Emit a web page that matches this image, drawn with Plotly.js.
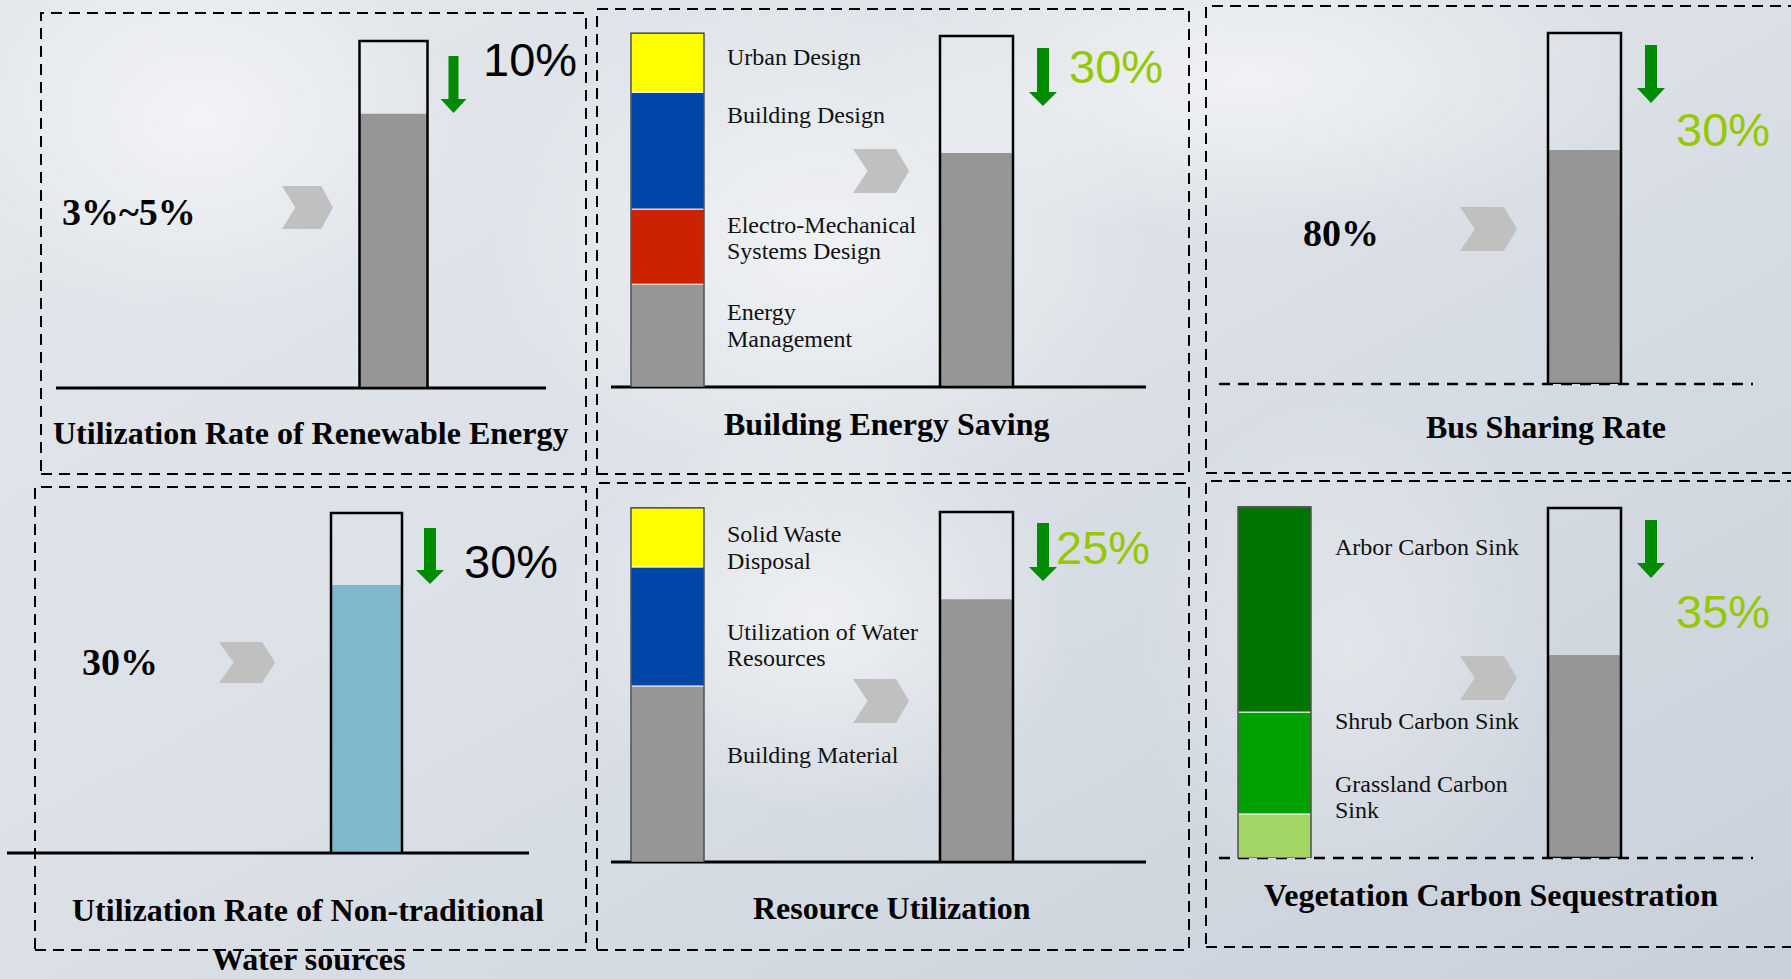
<!DOCTYPE html>
<html>
<head>
<meta charset="utf-8">
<script src="https://cdn.plot.ly/plotly-3.0.1.min.js"></script>
<style>
html,body{margin:0;padding:0;overflow:hidden;background:#dde2e8;}
#chart{width:1791px;height:979px;}
</style>
</head>
<body>
<div id="chart"></div>
<script>
// ---------------- DATA ----------------
const panelTitles = [
  "Utilization Rate of Renewable Energy",
  "Building Energy Saving",
  "Bus Sharing Rate",
  "Utilization Rate of Non-traditional<br>Water sources",
  "Resource Utilization",
  "Vegetation Carbon Sequestration"
];
const currentLabels = ["3%~5%", null, "80%", "30%", null, null];
const targetLevels = [79.0, 66.7, 66.7, 78.8, 75.1, 58.0];   // filled level of each target bar (box = 100)
const targetChanges = ["10%", "30%", "30%", "30%", "25%", "35%"];

const energyParts = ["Energy<br>Management", "Electro-Mechanical<br>Systems Design", "Building Design", "Urban Design"];
const energyShares = [29.3, 21.4, 33.3, 16.8];

const resourceParts = ["Building Material", "Utilization of Water<br>Resources", "Solid Waste<br>Disposal"];
const resourceShares = [50.3, 34.0, 16.9];

const carbonParts = ["Grassland Carbon<br>Sink", "Shrub Carbon Sink", "Arbor Carbon Sink"];
const carbonShares = [12.6, 29.1, 58.6];

// ---------------- LAYOUT / STYLE ----------------
const W = 1791, H = 979;
const fx = x => x / W;
const fy = y => 1 - y / H;
const SERIF = '"Liberation Serif", "Times New Roman", serif';
const SANS = '"Liberation Sans", Arial, sans-serif';
const GRAY = '#969696';
const LIME = '#96c800';
const ARROW = '#008c00';

const stacks = {
  1: { parts: energyParts, shares: energyShares, colors: [GRAY, '#cc2200', '#0046a8', '#ffff00'],
       cx: 667.5, w: 73, labelX: 725, labelY: [[312, 339], [225, 251], [115], [57]] },
  4: { parts: resourceParts, shares: resourceShares, colors: [GRAY, '#0046a8', '#ffff00'],
       cx: 667.5, w: 73, labelX: 725, labelY: [[755], [632, 658], [534, 561]] },
  5: { parts: carbonParts, shares: carbonShares, colors: ['#a2d566', '#00a000', '#007300'],
       cx: 1274.5, w: 73, labelX: 1333, labelY: [[784, 810], [721], [547]] }
};

const P = [
  { box: [41, 13, 586, 474], baseY: 388, boxH: 347, line: [56, 546], dashed: false,
    tcx: 393.5, tw: 68, fill: GRAY, arrow: [453.5, 56, 99, 113, 5, 13],
    change: [481, 59, '#000000'], current: [60, 212], chev: [282, 186, 333, 229],
    title: [[310, 433]] },
  { box: [597, 9, 1189, 474], baseY: 387, boxH: 351, line: [611, 1146], dashed: false,
    tcx: 976.5, tw: 73, fill: GRAY, arrow: [1043, 48, 92, 106, 6, 14],
    change: [1067, 67, LIME], current: null, chev: [853, 149, 909, 193],
    title: [[886, 423.5]] },
  { box: [1206, 6, 1800, 473], baseY: 384, boxH: 351, line: [1219, 1753], dashed: true,
    tcx: 1584.5, tw: 73, fill: GRAY, arrow: [1651, 45, 88, 103, 6, 14],
    change: [1674, 129, LIME], current: [1301, 233], chev: [1460, 207, 1517, 251],
    title: [[1546, 427.5]] },
  { box: [35, 487, 586, 950], baseY: 853, boxH: 340, line: [7, 529], dashed: false,
    tcx: 366.5, tw: 71, fill: '#7fb7cd', arrow: [430, 528, 570, 584, 6, 14],
    change: [462, 561, '#000000'], current: [80, 662], chev: [219, 642, 275, 683],
    title: [[308, 910], [308, 959]] },
  { box: [597, 483, 1189, 950], baseY: 862, boxH: 350, line: [611, 1146], dashed: false,
    tcx: 976.5, tw: 73, fill: GRAY, arrow: [1043, 523, 567, 581, 6, 14],
    change: [1054, 547, LIME], current: null, chev: [853, 679, 909, 723],
    title: [[891.5, 907.5]] },
  { box: [1206, 481, 1800, 947], baseY: 858, boxH: 350, line: [1219, 1753], dashed: true,
    tcx: 1584.5, tw: 73, fill: GRAY, arrow: [1651, 520, 563, 578, 6, 14],
    change: [1674, 611, LIME], current: null, chev: [1460, 656, 1517, 700],
    title: [[1491, 895]] }
];

// background (soft cloudy gradient) as inline SVG
const bgSvg =
  "<svg xmlns='http://www.w3.org/2000/svg' width='1791' height='979'>" +
  "<defs>" +
  "<linearGradient id='g' x1='0' y1='0' x2='1' y2='1'>" +
  "<stop offset='0' stop-color='#e3e7ec'/><stop offset='0.45' stop-color='#dce1e7'/><stop offset='1' stop-color='#c9d0da'/>" +
  "</linearGradient>" +
  "<radialGradient id='r' cx='0.5' cy='0.5' r='0.5'>" +
  "<stop offset='0' stop-color='#ffffff' stop-opacity='0.55'/><stop offset='1' stop-color='#ffffff' stop-opacity='0'/>" +
  "</radialGradient>" +
  "</defs>" +
  "<rect width='1791' height='979' fill='url(#g)'/>" +
  "<ellipse cx='820' cy='250' rx='330' ry='260' fill='url(#r)'/>" +
  "<ellipse cx='1250' cy='80' rx='380' ry='160' fill='url(#r)'/>" +
  "<ellipse cx='200' cy='120' rx='260' ry='200' fill='url(#r)'/>" +
  "<ellipse cx='820' cy='620' rx='260' ry='200' fill='url(#r)'/>" +
  "<ellipse cx='1350' cy='650' rx='220' ry='260' fill='url(#r)' opacity='0.6'/>" +
  "</svg>";
const bgUri = "data:image/svg+xml;charset=utf-8," + encodeURIComponent(bgSvg);

const traces = [];
const shapes = [];
const annotations = [];
const layout = {
  width: W, height: H,
  margin: { l: 0, r: 0, t: 0, b: 0, pad: 0 },
  paper_bgcolor: '#dde2e8',
  plot_bgcolor: 'rgba(0,0,0,0)',
  barmode: 'overlay',
  showlegend: false,
  images: [{ source: bgUri, xref: 'paper', yref: 'paper', x: 0, y: 1, sizex: 1, sizey: 1,
             sizing: 'stretch', layer: 'below', xanchor: 'left', yanchor: 'top' }]
};

function pathOf(pts) {
  return 'M ' + pts.map(p => fx(p[0]).toFixed(5) + ',' + fy(p[1]).toFixed(5)).join(' L ') + ' Z';
}

P.forEach((p, i) => {
  const n = i + 1;
  const xa = n === 1 ? 'x' : 'x' + n;
  const ya = n === 1 ? 'y' : 'y' + n;
  const xk = n === 1 ? 'xaxis' : 'xaxis' + n;
  const yk = n === 1 ? 'yaxis' : 'yaxis' + n;
  const xd0 = Math.max(0, p.box[0]), xd1 = Math.min(W, p.box[2]);
  const topPx = p.baseY - 1.05 * p.boxH;
  layout[xk] = { domain: [fx(xd0), fx(xd1)], range: [xd0, xd1], visible: false, fixedrange: true, anchor: ya };
  layout[yk] = { domain: [fy(p.baseY), fy(topPx)], range: [0, 105], visible: false, fixedrange: true, anchor: xa };

  // dashed panel frame
  shapes.push({ type: 'rect', xref: 'paper', yref: 'paper', layer: 'below',
    x0: fx(p.box[0]), x1: fx(p.box[2]), y0: fy(p.box[3]), y1: fy(p.box[1]),
    line: { color: '#000', width: 2, dash: '11px,7px' }, fillcolor: 'rgba(0,0,0,0)' });
  // baseline
  shapes.push({ type: 'line', xref: 'paper', yref: 'paper', layer: 'below',
    x0: fx(p.line[0]), x1: fx(p.line[1]), y0: fy(p.baseY), y1: fy(p.baseY),
    line: { color: '#000', width: p.dashed ? 2.5 : 3, dash: p.dashed ? '11px,8px' : 'solid' } });

  // stacked composition bar
  const st = stacks[i];
  if (st) {
    let cum = 0;
    st.shares.forEach((v, k) => {
      traces.push({ type: 'bar', x: [st.cx], y: [v], base: [cum], width: [st.w],
        xaxis: xa, yaxis: ya, hoverinfo: 'skip',
        marker: { color: st.colors[k], line: { color: 'rgba(255,255,255,0.9)', width: 1 } } });
      st.parts[k].split('<br>').forEach((ln, j) => {
        annotations.push({ xref: 'paper', yref: 'paper', x: fx(st.labelX), y: fy(st.labelY[k][j]),
          xanchor: 'left', yanchor: 'middle', showarrow: false, text: ln,
          font: { family: SERIF, size: 24, color: '#111' } });
      });
      cum += v;
    });
    const total = st.shares.reduce((a, b) => a + b, 0);
    traces.push({ type: 'bar', x: [st.cx], y: [total], base: [0], width: [st.w],
      xaxis: xa, yaxis: ya, hoverinfo: 'skip',
      marker: { color: 'rgba(0,0,0,0)', line: { color: '#222', width: 1.2 } } });
  }

  // target bar: filled level + outline box of 100
  traces.push({ type: 'bar', x: [p.tcx], y: [targetLevels[i]], base: [0], width: [p.tw],
    xaxis: xa, yaxis: ya, hoverinfo: 'skip',
    marker: { color: p.fill, line: { width: 0 } } });
  traces.push({ type: 'bar', x: [p.tcx], y: [100], base: [0], width: [p.tw],
    xaxis: xa, yaxis: ya, hoverinfo: 'skip',
    marker: { color: 'rgba(0,0,0,0)', line: { color: '#000', width: 2.5 } } });

  // green down arrow
  const [acx, at, an, atip, sw, hw] = p.arrow;
  shapes.push({ type: 'path', xref: 'paper', yref: 'paper', layer: 'above',
    path: pathOf([[acx - sw, at], [acx + sw, at], [acx + sw, an], [acx + hw, an], [acx, atip], [acx - hw, an], [acx - sw, an]]),
    fillcolor: ARROW, line: { width: 0 } });

  // chevron
  const [c0, c1, c2, c3] = p.chev;
  const cw = c2 - c0, cm = (c1 + c3) / 2;
  shapes.push({ type: 'path', xref: 'paper', yref: 'paper', layer: 'below',
    path: pathOf([[c0, c1], [c0 + 0.77 * cw, c1], [c2, cm], [c0 + 0.77 * cw, c3], [c0, c3], [c0 + 0.26 * cw, cm]]),
    fillcolor: '#c0c0c0', line: { width: 0 } });

  // change label
  annotations.push({ xref: 'paper', yref: 'paper', x: fx(p.change[0]), y: fy(p.change[1]),
    xanchor: 'left', yanchor: 'middle', showarrow: false, text: targetChanges[i],
    font: { family: SANS, size: 47, color: p.change[2] } });

  // current value
  if (currentLabels[i] && p.current) {
    annotations.push({ xref: 'paper', yref: 'paper', x: fx(p.current[0]), y: fy(p.current[1]),
      xanchor: 'left', yanchor: 'middle', showarrow: false, text: '<b>' + currentLabels[i] + '</b>',
      font: { family: SERIF, size: 38, color: '#000' } });
  }

  // title (one annotation per line)
  panelTitles[i].split('<br>').forEach((ln, j) => {
    annotations.push({ xref: 'paper', yref: 'paper', x: fx(p.title[j][0]), y: fy(p.title[j][1]),
      xanchor: 'center', yanchor: 'middle', showarrow: false, text: '<b>' + ln + '</b>',
      font: { family: SERIF, size: 32, color: '#000' } });
  });
});

traces.forEach(t => { t.showlegend = false; });
layout.shapes = shapes;
layout.annotations = annotations;

Plotly.newPlot('chart', traces, layout, { staticPlot: true, displayModeBar: false, responsive: false });
</script>
</body>
</html>
